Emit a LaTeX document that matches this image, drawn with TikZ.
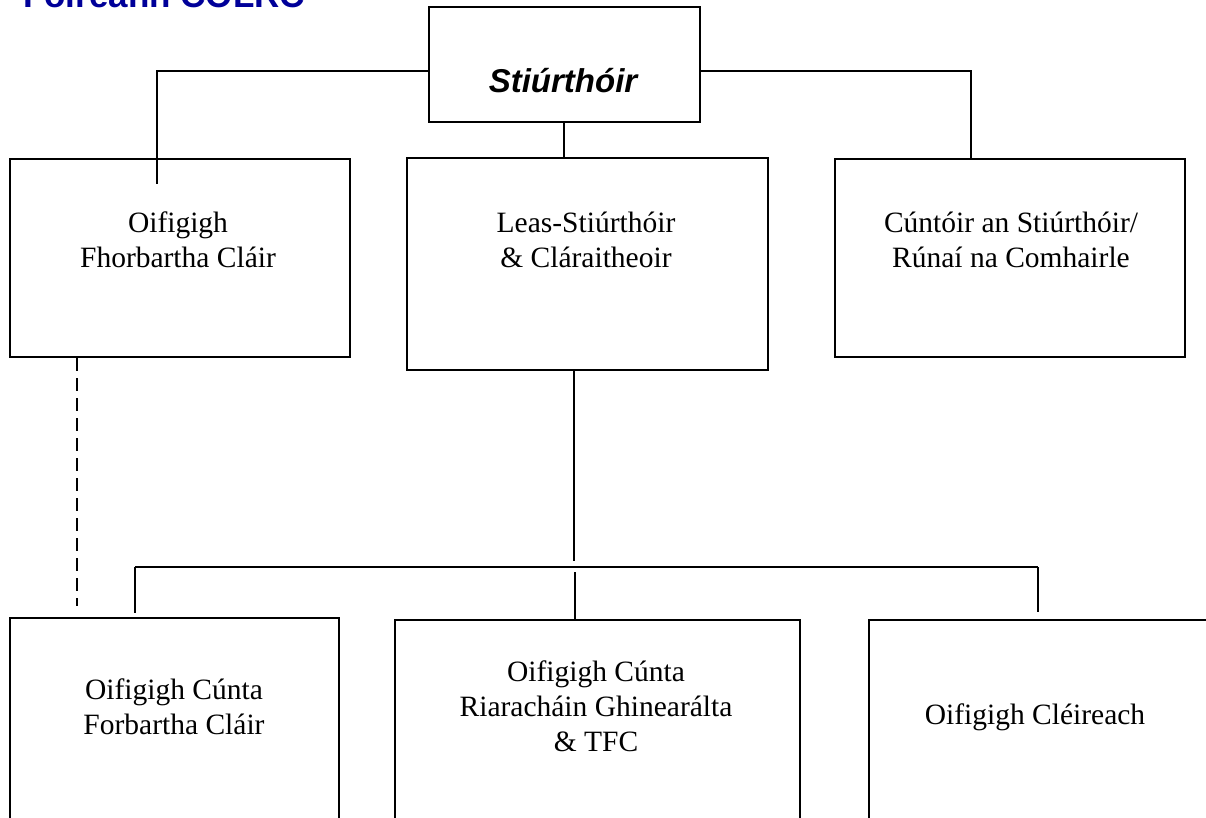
\documentclass[tikz,border=0pt]{standalone}
\usepackage{fontspec}
\usetikzlibrary{calc}
\setmainfont{Liberation Serif}
\newfontfamily\arialfont{Liberation Sans}
\definecolor{titleblue}{RGB}{0,0,153}
\begin{document}
\begin{tikzpicture}[x=1pt,y=-1pt,
  box/.style={draw, line width=2pt, inner sep=0pt, anchor=north west},
  conn/.style={line width=1.5pt},
  dconn/.style={line width=1.5pt, dash pattern=on 13pt off 7pt},
  lbl/.style={align=center, font=\fontsize{29.5}{35}\selectfont, inner sep=0pt},
  toplbl/.style={inner sep=0pt, font=\arialfont\bfseries\itshape\fontsize{33}{38}\selectfont},
  titlelbl/.style={inner sep=0pt, anchor=base west, text=titleblue, font=\arialfont\bfseries\fontsize{35}{40}\selectfont}]
\useasboundingbox (0,0) rectangle (1206,818);
\clip (0,0) rectangle (1206,818);
\fill[white] (0,0) rectangle (1206,818);

% title (cut off at the top edge)
\node[titlelbl] (title) at (23,8) {Foireann COLRC};

% joint coordinates
\coordinate (jl) at (157,71);
\coordinate (jr) at (971,71);
\coordinate (jm) at (564,71);
\coordinate (jbl) at (135,567);
\coordinate (jbr) at (1038,567);
\coordinate (jlv) at (157,184);
\coordinate (jmid) at (574,561);
\coordinate (jmid2) at (575,572);
\coordinate (jdash) at (77,606);
\coordinate (jblv) at (135,613);
\coordinate (jbrv) at (1038,612);

% boxes
\node[box, minimum width=271pt, minimum height=115pt] (stiu) at (428,6) {};
\node[box, minimum width=340pt, minimum height=198pt] (ofc) at (9,158) {};
\node[box, minimum width=361pt, minimum height=212pt] (leas) at (406,157) {};
\node[box, minimum width=350pt, minimum height=198pt] (cunt) at (834,158) {};
\node[box, minimum width=329pt, minimum height=240pt] (ocf) at (9,617) {};
\node[box, minimum width=405pt, minimum height=240pt] (ocr) at (394,619) {};
\node[box, minimum width=340pt, minimum height=240pt] (ocl) at (868,619) {};

% texts
\node[toplbl] (tstiu) at (563,81) {Stiúrthóir};
\node[lbl] (tofc) at (178,240) {Oifigigh\\Fhorbartha Cláir};
\node[lbl] (tleas) at (586,240) {Leas-Stiúrthóir\\\& Cláraitheoir};
\node[lbl] (tcunt) at (1011,240) {Cúntóir an Stiúrthóir/\\Rúnaí na Comhairle};
\node[lbl] (tocf) at (174,707) {Oifigigh Cúnta\\Forbartha Cláir};
\node[lbl] (tocr) at (596,706) {Oifigigh Cúnta\\Riaracháin Ghinearálta\\\& TFC};
\node[lbl] (tocl) at (1035,717) {Oifigigh Cléireach};

% connectors
\draw[conn] (stiu.west |- jl) -- (jl) -- (jlv);
\draw[conn] (stiu.east |- jr) -- (jr) -- (cunt.north -| jr);
\draw[conn] (stiu.south -| jm) -- (leas.north -| jm);
\draw[conn] (leas.south -| jmid) -- (jmid);
\draw[conn] (jbl) -- (jbr);
\draw[conn] (jbl) -- (jblv);
\draw[conn] (jbr) -- (jbrv);
\draw[conn] (jmid2) -- (ocr.north -| jmid2);
\draw[dconn] (ofc.south -| jdash) -- (jdash);
\end{tikzpicture}
\end{document}
